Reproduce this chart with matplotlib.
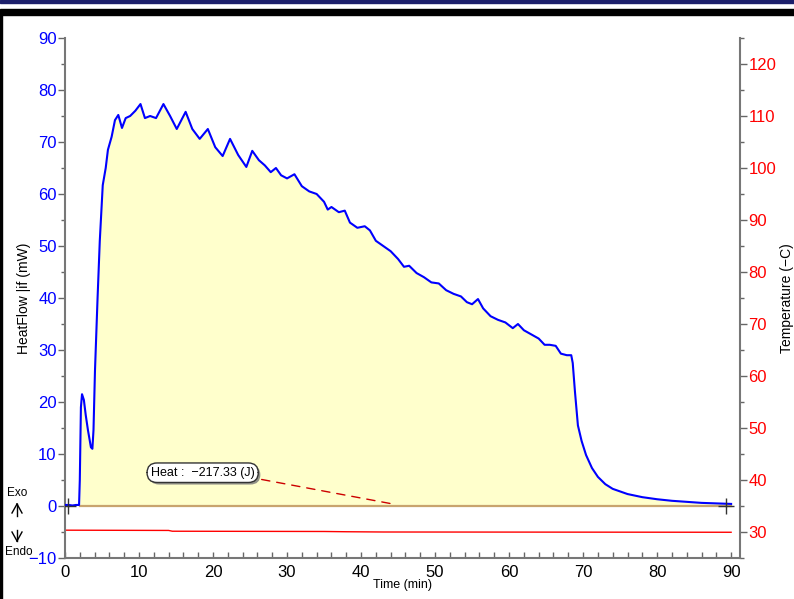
import matplotlib
matplotlib.use("Agg")
import matplotlib.pyplot as plt
from matplotlib.lines import Line2D
from matplotlib.patches import Rectangle
import matplotlib.patheffects as pe
import numpy as np

plt.rcParams['font.family'] = ['Liberation Sans', 'DejaVu Sans']

# ---------------- data ----------------
time_min = [0, 0.5, 1.0, 1.5, 1.9, 2.0, 2.15, 2.3, 2.55, 2.8, 3.1, 3.5, 3.7, 3.85,
            4.05, 4.4, 4.7, 5.1, 5.5, 5.8, 6.3, 6.75, 7.2, 7.7, 8.2, 8.8, 9.5, 10.2,
            10.8, 11.5, 12.3, 13.3, 14.2, 15.1, 16.3, 17.2, 18.2, 19.3, 20.3, 21.3,
            22.3, 23.4, 24.5, 25.3, 26.2, 27.0, 27.8, 28.5, 29.2, 30.0, 31.0, 32.0,
            33.0, 34.0, 35.0, 35.5, 36.0, 37.0, 37.8, 38.5, 39.5, 40.5, 41.2, 42.0,
            43.0, 44.0, 45.0, 45.8, 46.5, 47.5, 48.5, 49.5, 50.5, 51.5, 52.5, 53.5,
            54.3, 55.0, 55.8, 56.5, 57.5, 58.5, 59.5, 60.5, 61.2, 62.0, 63.0, 64.0,
            64.8, 65.5, 66.3, 67.0, 67.8, 68.4, 68.6, 68.9, 69.3, 69.8, 70.4, 71.2,
            72.0, 73.0, 74.0, 76.0, 78.0, 80.0, 82.0, 84.0, 86.0, 88.0, 90.0]
heat_flow = [0.2, 0.2, 0.1, 0.2, 0.2, 5.0, 19.0, 21.5, 20.4, 17.5, 14.6, 11.3, 11.0, 14.6,
             26.0, 40.0, 51.0, 61.7, 65.0, 68.5, 71.0, 74.2, 75.2, 72.7, 74.6, 75.0, 76.0, 77.3,
             74.6, 75.0, 74.6, 77.3, 75.0, 72.5, 75.8, 72.5, 70.6, 72.5, 69.0, 67.3,
             70.6, 67.5, 65.2, 68.3, 66.5, 65.5, 64.2, 65.0, 63.6, 63.0, 63.8, 61.5,
             60.5, 60.0, 58.5, 57.0, 57.5, 56.5, 56.8, 54.5, 53.5, 53.8, 53.0, 51.0,
             50.0, 49.0, 47.5, 46.0, 46.2, 44.8, 44.0, 43.0, 42.8, 41.5, 40.8, 40.3,
             39.2, 38.8, 39.8, 38.0, 36.5, 35.8, 35.3, 34.2, 35.0, 33.8, 33.0, 32.2,
             31.0, 31.0, 30.8, 29.3, 29.0, 29.0, 27.5, 22.0, 15.5, 12.5, 9.8, 7.3,
             5.6, 4.2, 3.3, 2.3, 1.7, 1.3, 1.0, 0.8, 0.6, 0.5, 0.4]

temp_time = [0, 14.0, 14.5, 35.0, 38.0, 43.0, 90.0]
temperature = [30.35, 30.3, 30.15, 30.1, 30.05, 30.0, 29.95]

fill_start = 2.0
heat_label = "Heat :  \u2212217.33 (J)"
heat_point = (45.0, 0.2)
cross_times = [0.4, 89.3]

# ---------------- figure ----------------
W, H = 794, 599
fig = plt.figure(figsize=(W / 100, H / 100), dpi=100)

# window decoration
fig.patches.append(Rectangle((0, 1 - 3 / H), 1, 3 / H, transform=fig.transFigure,
                             color='#1c1f6b', zorder=0))
fig.patches.append(Rectangle((0, 1 - 15 / H), 1, 6 / H, transform=fig.transFigure,
                             color='black', zorder=0))
fig.patches.append(Rectangle((0, 0), 2 / W, 1 - 12 / H, transform=fig.transFigure,
                             color='black', zorder=0))

left, right, bottom, top = 65 / W, 740 / W, 1 - 558 / H, 1 - 38 / H
ax = fig.add_axes([left, bottom, right - left, top - bottom])
ax2 = ax.twinx()
ax.set_zorder(ax2.get_zorder() + 1)
ax.patch.set_visible(False)

t = np.array(time_min)
hf = np.array(heat_flow)
mask = t >= fill_start
ax.fill_between(t[mask], 0, hf[mask], color='#FFFFCC', zorder=1, linewidth=0)
ax.plot([fill_start, 90], [0, 0], color='#C8A46E', lw=1.6, zorder=2)
ax.plot(t, hf, color='#0000FF', lw=1.5, zorder=3)
ax.plot(cross_times, [0, 0], linestyle='none', marker='+', color='#333333',
        markersize=12, markeredgewidth=1.0, zorder=4)

# annotation
ax.annotate('', xy=heat_point, xytext=(26.2, 5.2),
            arrowprops=dict(arrowstyle='-', color='#CC0000', lw=1.0,
                            linestyle=(0, (6, 5))), zorder=5)
txt = ax.text(18.6, 6.4, heat_label, ha='center', va='center', fontsize=9, color='black',
              zorder=6, bbox=dict(boxstyle='round,pad=0.3,rounding_size=0.8', fc='white',
                                  ec='#333333', lw=1.0))
txt.get_bbox_patch().set_path_effects([
    pe.SimplePatchShadow(offset=(1.5, -1.5), shadow_rgbFace='#777777', alpha=0.8),
    pe.Normal()])

ax2.plot(temp_time, temperature, color='#FF0000', lw=1.0)

# limits and ticks
ax.set_xlim(0, 91.2)
ax.set_ylim(-10, 90)
ax2.set_ylim(25, 125)
ax.set_xticks(np.arange(0, 91, 10))
ax.set_xticks(np.arange(0, 91, 2), minor=True)
ax.set_yticks(np.arange(-10, 91, 10))
ax.set_yticks(np.arange(-10, 91, 5), minor=True)
ax2.set_yticks(np.arange(30, 121, 10))
ax2.set_yticks(np.arange(25, 126, 5), minor=True)

ax.tick_params(axis='x', which='both', direction='in', length=4, width=1,
               colors='#666666', labelcolor='black', labelsize=12, pad=5)
ax.tick_params(axis='y', which='major', direction='out', length=5, width=1,
               colors='#666666', labelcolor='#0000FF', labelsize=12, pad=1)
ax.tick_params(axis='y', which='minor', direction='out', length=3, width=1, colors='#666666')
ax2.tick_params(axis='y', which='major', direction='out', length=5, width=1,
                colors='#666666', labelcolor='#FF0000', labelsize=12, pad=1)
ax2.tick_params(axis='y', which='minor', direction='out', length=3, width=1, colors='#666666')

for a in (ax, ax2):
    a.spines['top'].set_visible(False)
    for s in ('left', 'right', 'bottom'):
        a.spines[s].set_color('#777777')
        a.spines[s].set_linewidth(1.5)
ax.spines['right'].set_visible(False)
ax2.spines['left'].set_visible(False)
ax2.spines['bottom'].set_visible(False)

ax.set_ylabel('HeatFlow |if (mW)', fontsize=10)
ax.yaxis.set_label_coords((31 - 65) / 675, 0.5)
ax2.set_ylabel('Temperature (\u2212C)', fontsize=10, labelpad=3)
ax.set_xlabel('Time (min)', fontsize=9, labelpad=-1)

# Exo / Endo marks
fig.text(17 / W, 1 - 493 / H, 'Exo', ha='center', va='center', fontsize=8.5)
fig.text(19 / W, 1 - 552 / H, 'Endo', ha='center', va='center', fontsize=8.5)
def fpx(x, y):
    return x / W, 1 - y / H
for (x0, y0, x1, y1) in [(17, 504, 17, 516), (12, 513, 17, 504), (22, 513, 17, 504),
                         (17, 530, 17, 541), (12, 532, 17, 541), (22, 532, 17, 541)]:
    a0, b0 = fpx(x0, y0)
    a1, b1 = fpx(x1, y1)
    fig.lines.append(Line2D([a0, a1], [b0, b1], transform=fig.transFigure,
                            color='black', lw=1.0))

fig.savefig('out.png', dpi=100)
